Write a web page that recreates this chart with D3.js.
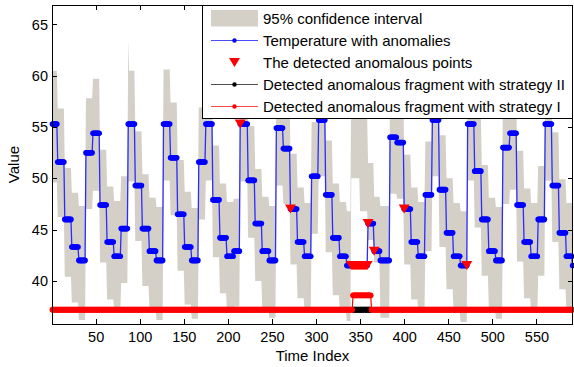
<!DOCTYPE html>
<html>
<meta charset="utf-8">
<style>
  body { margin: 0; background: #fff; }
  svg { display: block; font-family: "Liberation Sans", Arial, Helvetica, sans-serif; }
  .axis line { stroke: #000; shape-rendering: crispEdges; }
  .axis path { display: none; }
  .axis text { font-size: 14.5px; fill: #000; }
</style>
<body>
<svg width="574" height="367"></svg>
<script src="https://d3js.org/d3.v7.min.js"></script>
<script>

// step levels of the temperature series, and how many samples each level lasts
var levels = [
  55.3, 51.6, 46.0, 43.3, 42.0, 52.5, 54.4, 47.4, 43.8, 42.4,
  45.1, 55.3, 49.3, 45.1, 42.9, 42.0, 55.3, 52.0, 46.5, 43.3,
  42.0, 51.6, 55.3, 47.9, 44.2, 42.4, 42.9, 55.3, 49.8, 45.6,
  42.9, 42.0, 54.9, 52.9, 47.0, 43.8, 42.4, 50.2, 55.7, 48.4,
  44.2, 42.4, 41.5, 41.5, 41.5, 45.6, 42.9, 42.0, 54.0, 53.5,
  47.0, 43.8, 42.4, 48.4, 55.7, 48.9, 44.7, 42.4, 41.5, 55.3,
  50.7, 46.0, 42.9, 42.0, 53.0, 54.4, 47.4, 43.8, 42.4, 46.0,
  55.3, 49.3, 44.7, 42.4, 41.5
];
var runs = [
  6, 8, 8, 8, 8, 8, 8, 8, 8, 8,
  8, 8, 8, 8, 8, 8, 8, 8, 8, 8,
  8, 8, 8, 8, 8, 8, 7, 9, 8, 8,
  8, 8, 8, 8, 8, 8, 8, 8, 8, 8,
  8, 8, 5, 10, 9, 7, 7, 11, 8, 8,
  8, 8, 8, 8, 8, 8, 8, 8, 8, 8,
  8, 8, 8, 8, 8, 8, 8, 8, 8, 8,
  8, 8, 8, 7, 1
];

// 95% confidence interval, upper and lower bound for each level
var bandHi = [
  60.5, 56.8, 51.0, 48.6, 47.3, 57.8, 59.7, 52.8, 49.2, 47.8,
  50.2, 60.5, 54.6, 50.4, 48.1, 47.2, 60.6, 57.4, 51.8, 48.7,
  47.1, 56.9, 60.4, 53.2, 49.5, 47.7, 48.0, 60.6, 55.1, 50.9,
  48.2, 47.3, 60.0, 58.2, 52.4, 49.1, 47.6, 55.5, 61.0, 53.7,
  49.5, 47.7, 46.8, 60.8, 56.0, 51.5, 48.2, 47.3, 59.3, 58.8,
  52.3, 49.1, 47.7, 53.6, 61.0, 54.2, 50.0, 47.6, 46.8, 60.5,
  56.0, 51.3, 48.1, 47.2, 58.3, 59.6, 52.7, 49.0, 47.6, 51.2,
  60.5, 54.5, 49.9, 47.6, 46.7
];
var bandLo = [
  49.6, 46.2, 40.4, 37.9, 36.2, 47.0, 48.8, 41.8, 38.2, 37.1,
  39.8, 49.7, 43.9, 39.5, 37.4, 36.2, 49.8, 46.4, 41.0, 37.7,
  36.3, 46.0, 49.8, 42.3, 38.8, 37.0, 37.5, 49.7, 44.2, 40.0,
  37.4, 36.4, 49.3, 47.5, 41.6, 38.3, 36.9, 44.6, 50.2, 42.8,
  38.6, 36.9, 36.1, 50.0, 46.8, 44.0, 41.8, 36.4, 48.5, 48.0,
  41.6, 38.2, 36.9, 42.9, 50.2, 43.3, 39.2, 36.9, 36.0, 49.8,
  45.2, 40.5, 37.4, 36.3, 47.5, 48.9, 41.9, 38.3, 36.9, 40.5,
  49.8, 43.8, 39.2, 36.9, 36.0
];
var bandSpikeT = [87];
var bandSpikeHi = [63.5];

// time indices of the detected anomalous points
var anomalyT = [214, 271,
  340, 341, 342, 343, 344, 345, 346, 347, 348, 349,
  350, 351, 352, 353, 354, 355, 356, 357, 358,
  359, 366, 400, 471];

// detected fragments (drawn as indicator lines near the bottom)
var baseLevel = 37.2;
var fragLevel = 38.6;
var fragI = [342, 362];
var fragII = [342, 362];

var xTicks = [50, 100, 150, 200, 250, 300, 350, 400, 450, 500, 550];
var yTicks = [40, 45, 50, 55, 60, 65];
var legendLabels = [
  "95% confidence interval",
  "Temperature with anomalies",
  "The detected anomalous points",
  "Detected anomalous fragment with strategy II",
  "Detected anomalous fragment with strategy I"
];

var box = {left: 52, right: 573, top: 5, bottom: 324};
var tMax = 591;

var svg = d3.select("svg");

var x = d3.scaleLinear().domain([0.5, 591.5]).range([box.left, box.right]);
var y = d3.scaleLinear().domain([35.8, 66.9]).range([box.bottom, box.top]);

// expand the step levels into samples
var series = [];
var t = 1;
levels.forEach(function(v, i) {
  for (var j = 0; j < runs[i]; j++) {
    series.push({t: t, v: v, hi: bandHi[i], lo: bandLo[i]});
    t++;
  }
});
bandSpikeT.forEach(function(st, i) { series[st - 1].hi = bandSpikeHi[i]; });
series = series.filter(function(d) { return d.t <= tMax; });

var strat1 = [], strat2 = [];
for (var k = 1; k <= tMax; k++) {
  var inI = k >= fragI[0] && k <= fragI[1];
  strat1.push({t: k, v: inI ? fragLevel : baseLevel});
  if (k >= fragII[0] && k <= fragII[1]) strat2.push({t: k, v: baseLevel});
}

svg.append("defs").append("clipPath").attr("id", "plot")
  .append("rect").attr("x", box.left).attr("y", box.top)
  .attr("width", box.right - box.left).attr("height", box.bottom - box.top);

var g = svg.append("g");
var clipped = g.append("g").attr("clip-path", "url(#plot)");

// confidence band
clipped.append("path")
  .datum(series)
  .attr("fill", "#d4d0c8")
  .attr("d", d3.area()
    .x(function(d) { return x(d.t); })
    .y0(function(d) { return y(d.lo); })
    .y1(function(d) { return y(d.hi); }));

var line = d3.line()
  .x(function(d) { return x(d.t); })
  .y(function(d) { return y(d.v); });

// temperature
clipped.append("path").datum(series)
  .attr("fill", "none").attr("stroke", "#2b2bff").attr("stroke-width", 1.3)
  .attr("d", line);
g.append("g").selectAll("circle").data(series).enter()
  .append("circle")
  .attr("cx", function(d) { return x(d.t); })
  .attr("cy", function(d) { return y(d.v); })
  .attr("r", 2.8).attr("fill", "#0000ff");

// detected anomalous points
var tri = "M-5.5,-4.5L5.5,-4.5L0,4.5Z";
g.append("g").selectAll("path").data(anomalyT).enter()
  .append("path")
  .attr("d", tri)
  .attr("fill", "#ff0000")
  .attr("transform", function(d) {
    return "translate(" + x(d) + "," + y(series[d - 1].v) + ")";
  });

// strategy II (black)
clipped.append("path").datum(strat2)
  .attr("fill", "none").attr("stroke", "#000").attr("stroke-width", 1)
  .attr("d", line);
g.append("g").selectAll("circle").data(strat2).enter()
  .append("circle")
  .attr("cx", function(d) { return x(d.t); })
  .attr("cy", function(d) { return y(d.v); })
  .attr("r", 2.9).attr("fill", "#000");

// strategy I (red)
clipped.append("path").datum(strat1)
  .attr("fill", "none").attr("stroke", "#ff0000").attr("stroke-width", 1.2)
  .attr("d", line);
g.append("g").selectAll("circle").data(strat1).enter()
  .append("circle")
  .attr("cx", function(d) { return x(d.t); })
  .attr("cy", function(d) { return y(d.v); })
  .attr("r", 2.9).attr("fill", "#ff0000");

// axes (box with inward ticks)
svg.append("g").attr("class", "axis")
  .attr("transform", "translate(0," + box.bottom + ")")
  .call(d3.axisBottom(x).tickValues(xTicks).tickSize(-5).tickPadding(8));
svg.append("g").attr("class", "axis")
  .attr("transform", "translate(0," + box.top + ")")
  .call(d3.axisTop(x).tickValues(xTicks).tickSize(-5).tickFormat(""));
svg.append("g").attr("class", "axis")
  .attr("transform", "translate(" + box.left + ",0)")
  .call(d3.axisLeft(y).tickValues(yTicks).tickSize(-5).tickPadding(4));
svg.append("g").attr("class", "axis")
  .attr("transform", "translate(" + box.right + ",0)")
  .call(d3.axisRight(y).tickValues(yTicks).tickSize(-5).tickFormat(""));

svg.append("rect")
  .attr("x", box.left + 0.5).attr("y", box.top + 0.5)
  .attr("width", box.right - box.left - 1).attr("height", box.bottom - box.top)
  .attr("fill", "none").attr("stroke", "#000").attr("stroke-width", 1);

svg.append("text")
  .attr("x", (box.left + box.right) / 2).attr("y", 361)
  .attr("text-anchor", "middle").style("font-size", "15px")
  .text("Time Index");
svg.append("text")
  .attr("transform", "translate(19," + (box.top + box.bottom) / 2 + ") rotate(-90)")
  .attr("text-anchor", "middle").style("font-size", "15px")
  .text("Value");

// legend
var lg = svg.append("g");
lg.append("rect")
  .attr("x", 202.5).attr("y", 5.5).attr("width", 370).attr("height", 113)
  .attr("fill", "#fff").attr("stroke", "#000");

var rowY = function(i) { return 18.5 + 22 * i; };
var sx0 = 211, sx1 = 258, sxm = 234.5;

lg.append("rect").attr("x", sx0).attr("y", rowY(0) - 8.5)
  .attr("width", sx1 - sx0).attr("height", 16.5).attr("fill", "#d4d0c8");

var legendColors = [null, "#0000ff", "#ff0000", "#000000", "#ff0000"];
[1, 3, 4].forEach(function(i) {
  lg.append("line").attr("x1", sx0).attr("x2", sx1)
    .attr("y1", rowY(i)).attr("y2", rowY(i))
    .attr("stroke", legendColors[i]).attr("stroke-opacity", 0.7).attr("stroke-width", 1);
  lg.append("circle").attr("cx", sxm).attr("cy", rowY(i)).attr("r", 2.2)
    .attr("fill", legendColors[i]);
});
lg.append("path").attr("d", tri)
  .attr("fill", "#ff0000")
  .attr("transform", "translate(" + sxm + "," + rowY(2) + ")");

lg.selectAll("text.lab").data(legendLabels).enter()
  .append("text").attr("class", "lab")
  .attr("x", 263).attr("y", function(d, i) { return rowY(i); })
  .attr("dy", "0.35em").style("font-size", "15px")
  .text(function(d) { return d; });

</script>
</body>
</html>
